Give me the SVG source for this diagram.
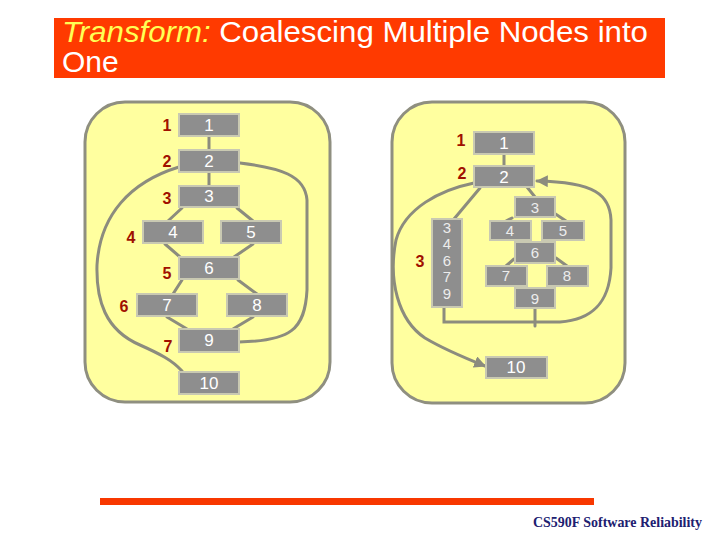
<svg xmlns="http://www.w3.org/2000/svg" width="720" height="540" viewBox="0 0 720 540">
<defs>
<style>
.panel{fill:#ffff9f;stroke:#8f8f80;stroke-width:3}
.node{fill:#8e8e8e;stroke:#c9c9b2;stroke-width:2}
.nt{font-family:"Liberation Sans",Arial,sans-serif;font-size:17px;fill:#ffffff;text-anchor:middle}
.st{font-family:"Liberation Sans",Arial,sans-serif;font-size:15px;fill:#ececec;text-anchor:middle}
.lbl{font-family:"Liberation Sans",Arial,sans-serif;font-size:16px;font-weight:bold;fill:#a01000;text-anchor:middle}
.edge{fill:none;stroke:#8c8c7e;stroke-width:3;stroke-linecap:round}
.ttl{font-family:"Liberation Sans",Arial,sans-serif;font-size:30px}
</style>
<marker id="ah" viewBox="0 0 10 10" refX="9" refY="5" markerWidth="4" markerHeight="4" orient="auto"><path d="M0,0L10,5L0,10z" fill="#8c8c7e"/></marker>
</defs>
<rect width="720" height="540" fill="#ffffff"/>
<g id="title">
<rect x="54" y="18" width="611" height="60" fill="#ff3a00"/>
<text class="ttl" x="62" y="42" textLength="586" lengthAdjust="spacingAndGlyphs"><tspan fill="#ffff55" font-style="italic">Transform:</tspan><tspan fill="#ffffff"> Coalescing Multiple Nodes into</tspan></text>
<text class="ttl" x="62" y="72" fill="#ffffff">One</text>
</g>
<g id="panels">
<rect class="panel" x="85" y="102" width="245" height="300" rx="40"/>
<rect class="panel" x="392" y="102" width="233" height="301" rx="40"/>
</g>
<g id="connectors">
<line class="edge" x1="209" y1="136" x2="209" y2="150"/>
<line class="edge" x1="209" y1="172" x2="209" y2="186"/>
<line class="edge" x1="182" y1="208" x2="168" y2="221"/>
<line class="edge" x1="237" y1="208" x2="253" y2="221"/>
<line class="edge" x1="165" y1="244" x2="180" y2="257"/>
<line class="edge" x1="253" y1="244" x2="234" y2="257"/>
<line class="edge" x1="182" y1="280" x2="173" y2="294"/>
<line class="edge" x1="238" y1="280" x2="257" y2="294"/>
<line class="edge" x1="167" y1="317" x2="187" y2="329"/>
<line class="edge" x1="253" y1="317" x2="233" y2="329"/>
<path class="edge" d="M239,342 C290,341 305,330 307,290 L307,200 C305,175 280,168 240,163"/>
<path class="edge" d="M179,167 C130,182 100,215 97,265 C96,300 105,330 140,345 C160,354 172,360 182,371"/>
<line class="edge" x1="504" y1="154" x2="504" y2="166"/>
<line class="edge" x1="480" y1="188" x2="454" y2="219"/>
<line class="edge" x1="523" y1="182" x2="535" y2="197"/>
<line class="edge" x1="512" y1="218" x2="506" y2="221"/>
<line class="edge" x1="554" y1="213" x2="566" y2="221"/>
<line class="edge" x1="514" y1="259" x2="506" y2="266"/>
<line class="edge" x1="556" y1="258" x2="567" y2="266"/>
<path class="edge" d="M444,307 V322 H560 C590,320 609,305 611,268 L611,220 C610,195 595,182 537,181" marker-end="url(#ah)"/>
<line class="edge" x1="535" y1="308" x2="535" y2="326"/>
<path class="edge" d="M474,183 C440,190 405,208 396,240 C388,280 398,320 425,338 C445,350 465,358 485,366" marker-end="url(#ah)"/>
</g>
<g id="left-labels">
<text class="lbl" x="167" y="131">1</text>
<text class="lbl" x="167" y="167">2</text>
<text class="lbl" x="167" y="204">3</text>
<text class="lbl" x="131" y="243">4</text>
<text class="lbl" x="167" y="279">5</text>
<text class="lbl" x="124" y="312">6</text>
<text class="lbl" x="168" y="352">7</text>
</g>
<g id="L1"><rect class="node" x="179" y="114" width="60" height="22"/><text class="nt" x="209" y="131">1</text></g>
<g id="L2"><rect class="node" x="179" y="150" width="60" height="22"/><text class="nt" x="209" y="167">2</text></g>
<g id="L3"><rect class="node" x="179" y="186" width="60" height="21"/><text class="nt" x="209" y="202">3</text></g>
<g id="L4"><rect class="node" x="143" y="221" width="60" height="22"/><text class="nt" x="173" y="238">4</text></g>
<g id="L5"><rect class="node" x="221" y="221" width="60" height="22"/><text class="nt" x="251" y="238">5</text></g>
<g id="L6"><rect class="node" x="179" y="257" width="60" height="22"/><text class="nt" x="209" y="274">6</text></g>
<g id="L7"><rect class="node" x="137" y="294" width="60" height="22"/><text class="nt" x="167" y="311">7</text></g>
<g id="L8"><rect class="node" x="227" y="294" width="60" height="22"/><text class="nt" x="257" y="311">8</text></g>
<g id="L9"><rect class="node" x="179" y="329" width="60" height="23"/><text class="nt" x="209" y="346">9</text></g>
<g id="L10"><rect class="node" x="179" y="372" width="60" height="22"/><text class="nt" x="209" y="389">10</text></g>
<g id="right-labels">
<text class="lbl" x="461" y="146">1</text>
<text class="lbl" x="462" y="179">2</text>
<text class="lbl" x="420" y="267">3</text>
</g>
<g id="R1"><rect class="node" x="474" y="132" width="60" height="22"/><text class="nt" x="504" y="149">1</text></g>
<g id="R2"><rect class="node" x="474" y="166" width="60" height="21"/><text class="nt" x="504" y="183">2</text></g>
<g id="R3"><rect class="node" x="515" y="197" width="40" height="20"/><text class="st" x="535" y="213">3</text></g>
<g id="R4"><rect class="node" x="490" y="221" width="41" height="19"/><text class="st" x="510" y="236">4</text></g>
<g id="R5"><rect class="node" x="542" y="221" width="42" height="19"/><text class="st" x="563" y="236">5</text></g>
<g id="R6"><rect class="node" x="515" y="242" width="40" height="21"/><text class="st" x="535" y="258">6</text></g>
<g id="R7"><rect class="node" x="486" y="266" width="41" height="20"/><text class="st" x="506" y="281">7</text></g>
<g id="R8"><rect class="node" x="547" y="266" width="41" height="20"/><text class="st" x="567" y="281">8</text></g>
<g id="R9"><rect class="node" x="515" y="288" width="40" height="20"/><text class="st" x="535" y="304">9</text></g>
<g id="R34679"><rect class="node" x="432" y="219" width="30" height="88"/>
<text class="st" x="447" y="233">3</text><text class="st" x="447" y="249">4</text><text class="st" x="447" y="266">6</text><text class="st" x="447" y="282">7</text><text class="st" x="447" y="299">9</text></g>
<g id="R10"><rect class="node" x="486" y="357" width="61" height="21"/><text class="nt" x="516" y="373">10</text></g>
<g id="footer">
<rect x="100" y="498" width="494" height="7" fill="#f83800"/>
<text x="533" y="527" font-family="Liberation Serif,Times New Roman,serif" font-size="14" font-weight="bold" fill="#202070" textLength="169" lengthAdjust="spacingAndGlyphs">CS590F Software Reliability</text>
</g>
</svg>
